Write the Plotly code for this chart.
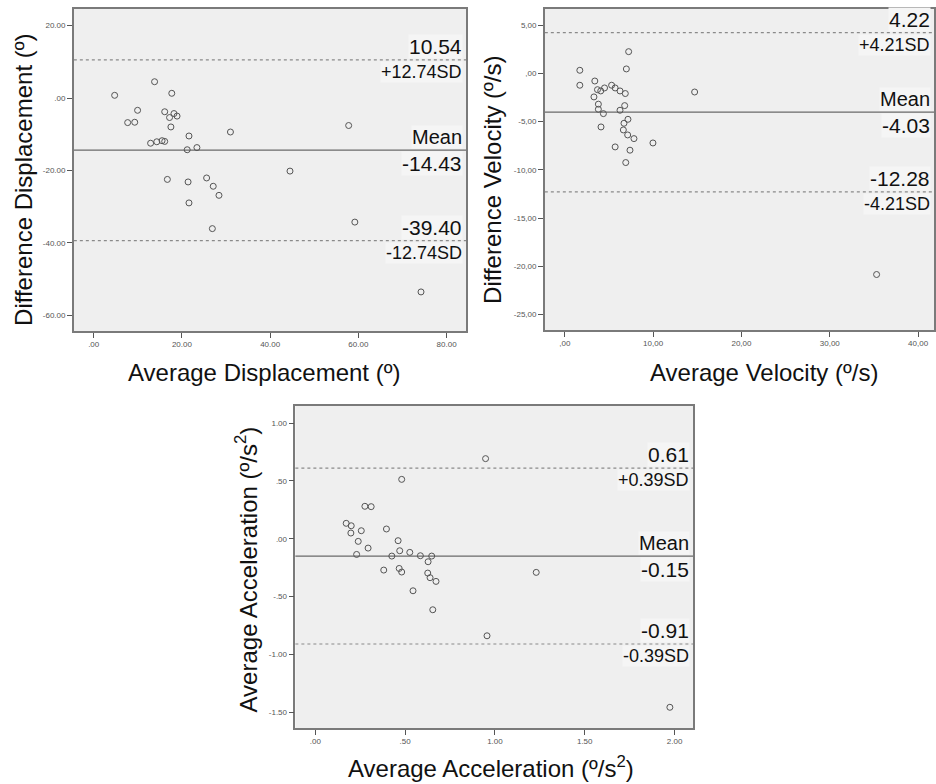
import plotly.graph_objects as go

# ---------------- data ----------------
disp_avg = [4.75, 13.8, 17.7, 9.95, 7.7, 9.3, 16.1, 18.2, 17.2, 18.9, 17.5, 21.6, 31.0, 57.8,
            12.9, 14.3, 15.5, 16.1, 21.2, 23.4, 44.5, 16.7, 21.4, 25.6, 27.1, 28.4, 21.6, 26.9,
            59.2, 74.2]
disp_diff = [0.74, 4.5, 1.3, -3.4, -6.8, -6.7, -3.8, -4.3, -5.4, -5.0, -8.0, -10.5, -9.4, -7.6,
             -12.5, -12.1, -11.8, -12.0, -14.3, -13.7, -20.2, -22.5, -23.2, -22.1, -24.4, -26.9,
             -29.0, -36.1, -34.3, -53.6]
disp_lines = [10.54, -14.43, -39.40]

vel_avg = [1.7, 1.7, 3.4, 3.7, 4.07, 4.5, 5.3, 5.7, 6.25, 6.85, 3.3, 3.8, 3.8, 4.37, 6.78, 6.25,
           7.23, 6.97, 14.7, 4.1, 7.15, 6.7, 6.63, 7.12, 7.83, 9.98, 5.7, 7.38, 6.9, 35.3]
vel_diff = [0.31, -1.24, -0.8, -1.7, -1.83, -1.52, -1.24, -1.52, -1.83, -2.1, -2.45, -3.2, -3.73,
            -4.18, -3.35, -3.83, 2.24, 0.45, -1.94, -5.56, -4.77, -5.18, -5.87, -6.39, -6.77,
            -7.22, -7.63, -7.97, -9.25, -20.85]
vel_lines = [4.22, -4.03, -12.28]

acc_avg = [0.172, 0.2, 0.198, 0.276, 0.311, 0.256, 0.239, 0.294, 0.23, 0.396, 0.481, 0.948, 0.461,
           0.47, 0.526, 0.426, 0.585, 0.648, 0.628, 0.381, 0.467, 0.481, 0.626, 0.639, 0.672,
           1.23, 0.544, 0.654, 0.956, 1.974]
acc_diff = [0.133, 0.112, 0.049, 0.28, 0.277, 0.069, -0.023, -0.081, -0.136, 0.084, 0.513, 0.692,
            -0.017, -0.104, -0.118, -0.15, -0.147, -0.15, -0.199, -0.271, -0.257, -0.288, -0.297,
            -0.337, -0.369, -0.291, -0.45, -0.614, -0.839, -1.457]
acc_lines = [0.61, -0.15, -0.91]

disp_upper_lbl = ["10.54", "+12.74SD"]
disp_mean_lbl = ["Mean", "-14.43"]
disp_lower_lbl = ["-39.40", "-12.74SD"]
vel_upper_lbl = ["4.22", "+4.21SD"]
vel_mean_lbl = ["Mean", "-4.03"]
vel_lower_lbl = ["-12.28", "-4.21SD"]
acc_upper_lbl = ["0.61", "+0.39SD"]
acc_mean_lbl = ["Mean", "-0.15"]
acc_lower_lbl = ["-0.91", "-0.39SD"]

disp_xticks = [0, 20, 40, 60, 80]
disp_xtext = [".00", "20.00", "40.00", "60.00", "80.00"]
disp_yticks = [20, 0, -20, -40, -60]
disp_ytext = ["20.00", ".00", "-20.00", "-40.00", "-60.00"]
vel_xticks = [0, 10, 20, 30, 40]
vel_xtext = [",00", "10,00", "20,00", "30,00", "40,00"]
vel_yticks = [5, 0, -5, -10, -15, -20, -25]
vel_ytext = ["5,00", ",00", "-5,00", "-10,00", "-15,00", "-20,00", "-25,00"]
acc_xticks = [0, 0.5, 1.0, 1.5, 2.0]
acc_xtext = [".00", ".50", "1.00", "1.50", "2.00"]
acc_yticks = [1.0, 0.5, 0.0, -0.5, -1.0, -1.5]
acc_ytext = ["1.00", ".50", ".00", "-.50", "-1.00", "-1.50"]

# ---------------- figure ----------------
W, H = 936, 784
FONT = "Liberation Sans, Arial, Helvetica, sans-serif"
PLOT_BG = "#efefef"
LBL_BG = "#f5f5f5"

fig = go.Figure()

panels = [
    dict(ax="", x=disp_avg, y=disp_diff, lines=disp_lines,
         lbls=[disp_upper_lbl, disp_mean_lbl, disp_lower_lbl],
         xd=[74 / W, 467 / W], yd=[1 - 331 / H, 1 - 9 / H],
         xr=[-4.5, 84.4], yr=[-64.4, 24.6],
         xt=disp_xticks, xtt=disp_xtext, yt=disp_yticks, ytt=disp_ytext),
    dict(ax="2", x=vel_avg, y=vel_diff, lines=vel_lines,
         lbls=[vel_upper_lbl, vel_mean_lbl, vel_lower_lbl],
         xd=[546 / W, 1.0], yd=[1 - 330 / H, 1 - 9 / H],
         xr=[-2.26, 41.8], yr=[-26.6, 6.66],
         xt=vel_xticks, xtt=vel_xtext, yt=vel_yticks, ytt=vel_ytext),
    dict(ax="3", x=acc_avg, y=acc_diff, lines=acc_lines,
         lbls=[acc_upper_lbl, acc_mean_lbl, acc_lower_lbl],
         xd=[296 / W, 694.7 / W], yd=[1 - 728 / H, 1 - 406 / H],
         xr=[-0.111, 2.104], yr=[-1.636, 1.147],
         xt=acc_xticks, xtt=acc_xtext, yt=acc_yticks, ytt=acc_ytext),
]

shapes = []
annotations = []
for p in panels:
    a = p["ax"]
    xa, ya = "x" + a, "y" + a
    fig.add_trace(go.Scatter(
        x=p["x"], y=p["y"], mode="markers", xaxis=xa, yaxis=ya,
        marker=dict(symbol="circle-open", size=6, color="#555555", line=dict(width=1)),
        showlegend=False, hoverinfo="x+y"))
    axis_common = dict(showgrid=False, zeroline=False, showline=True, mirror=True,
                       linecolor="#7a7a7a", linewidth=1.5, ticks="outside", ticklen=5,
                       tickcolor="#555555", tickwidth=1,
                       tickfont=dict(family=FONT, size=8, color="#555555"))
    fig.update_layout(**{
        "xaxis" + a: dict(domain=p["xd"], range=p["xr"], anchor=ya, tickmode="array",
                          tickvals=p["xt"], ticktext=p["xtt"], **axis_common),
        "yaxis" + a: dict(domain=p["yd"], range=p["yr"], anchor=xa, tickmode="array",
                          tickvals=p["yt"], ticktext=p["ytt"], **axis_common),
    })
    # background
    shapes.append(dict(type="rect", xref=xa + " domain", yref=ya + " domain",
                       x0=0, x1=1, y0=0, y1=1, fillcolor=PLOT_BG, line=dict(width=0),
                       layer="below"))
    for i, v in enumerate(p["lines"]):
        shapes.append(dict(type="line", xref=xa + " domain", yref=ya, x0=0, x1=1, y0=v, y1=v,
                           line=dict(color="#6a6a6a" if i == 1 else "#8a8a8a",
                                     width=1.3 if i == 1 else 1.2,
                                     dash="solid" if i == 1 else "dot"),
                           layer="below"))
        top_txt, bot_txt = p["lbls"][i]
        top_size = 20 if i == 1 else 21
        bot_size = 21 if i == 1 else 18
        annotations.append(dict(xref=xa + " domain", yref=ya, x=1, y=v, xanchor="right",
                                yanchor="bottom", text=top_txt, showarrow=False, xshift=-3,
                                yshift=1, bgcolor=LBL_BG, borderpad=0,
                                font=dict(family=FONT, size=top_size, color="#111111")))
        annotations.append(dict(xref=xa + " domain", yref=ya, x=1, y=v, xanchor="right",
                                yanchor="top", text=bot_txt, showarrow=False, xshift=-3,
                                yshift=-1, bgcolor=LBL_BG, borderpad=0,
                                font=dict(family=FONT, size=bot_size, color="#111111")))

# axis titles
title_font = dict(family=FONT, size=24, color="#111111")
titles = [
    ("Average Displacement (º)", 265 / W, 1 - 373 / H, 0),
    ("Difference Displacement (º)", 24 / W, 1 - 180 / H, -90),
    ("Average Velocity (º/s)", 766 / W, 1 - 373 / H, 0),
    ("Difference Velocity (º/s)", 494 / W, 1 - 180 / H, -90),
    ("Average Acceleration (º/s<sup>2</sup>)", 492 / W, 1 - 767 / H, 0),
    ("Average Acceleration (º/s<sup>2</sup>)", 247 / W, 1 - 569 / H, -90),
]
for txt, x, y, ang in titles:
    annotations.append(dict(xref="paper", yref="paper", x=x, y=y, xanchor="center",
                            yanchor="middle", text=txt, textangle=ang, showarrow=False,
                            font=title_font))

fig.update_layout(width=W, height=H, margin=dict(l=0, r=0, t=0, b=0),
                  paper_bgcolor="white", plot_bgcolor="rgba(0,0,0,0)",
                  shapes=shapes, annotations=annotations, showlegend=False)

fig.write_html("out.html",
               config={"displayModeBar": False},
               post_script="document.body.style.margin='0';"
                           "document.body.style.overflow='hidden';")
